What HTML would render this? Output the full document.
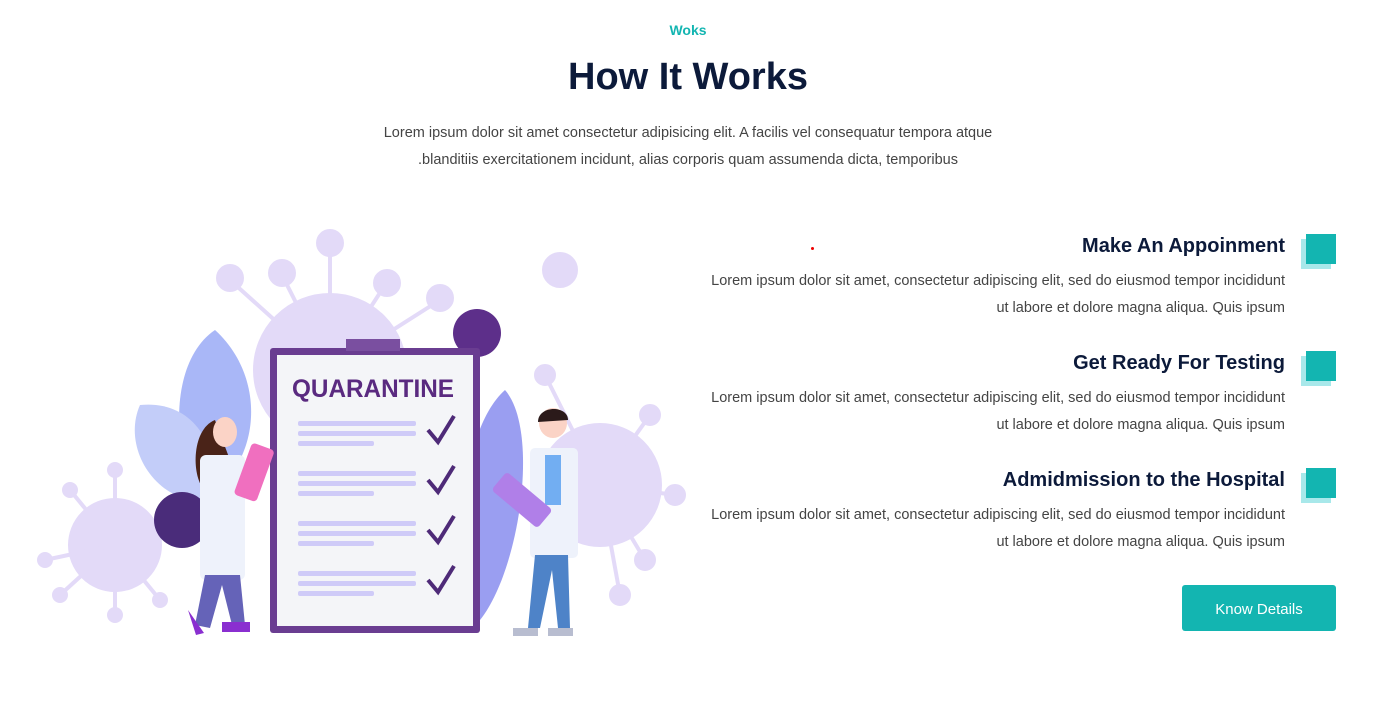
<!DOCTYPE html>
<html><head><meta charset="utf-8"><style>
body{margin:0;width:1399px;height:717px;background:#fff;position:relative;overflow:hidden;font-family:"Liberation Sans",sans-serif}
.a{position:absolute}
.sub{left:0;width:1376px;top:22px;text-align:center;color:#13b5b1;font-weight:bold;font-size:14px}
h1{position:absolute;margin:0;left:0;width:1376px;top:56px;text-align:center;font-size:38px;color:#0c1a3a;font-weight:bold}
.intro{left:0;width:1376px;top:120px;text-align:center;color:#444;font-size:14.5px;line-height:27px}
.item{right:114px;width:640px;text-align:right}
.item h3{margin:0;font-size:20px;color:#0c1a3a;font-weight:bold;line-height:26px}
.item p{margin:9px 0 0;font-size:14.5px;color:#444;line-height:27px}
.ic{left:1301px;width:30px;height:30px;background:#a8e8ea}
.ic2{left:1306px;width:30px;height:30px;background:#13b5b1}
.btn{left:1182px;top:585px;width:154px;height:46px;background:#13b5b1;color:#fff;font-size:15px;text-align:center;line-height:50px;border-radius:3px}
</style></head><body>
<div class="a sub">Woks</div>
<h1>How It Works</h1>
<div class="a intro">Lorem ipsum dolor sit amet consectetur adipisicing elit. A facilis vel consequatur tempora atque<br>.blanditiis exercitationem incidunt, alias corporis quam assumenda dicta, temporibus</div>
<div class="a" style="left:811px;top:247px;width:3px;height:3px;background:#e00;border-radius:50%"></div>

<div class="a item" style="top:233px"><h3>Make An Appoinment</h3><p>Lorem ipsum dolor sit amet, consectetur adipiscing elit, sed do eiusmod tempor incididunt<br>ut labore et dolore magna aliqua. Quis ipsum</p></div>
<div class="a item" style="top:350px"><h3>Get Ready For Testing</h3><p>Lorem ipsum dolor sit amet, consectetur adipiscing elit, sed do eiusmod tempor incididunt<br>ut labore et dolore magna aliqua. Quis ipsum</p></div>
<div class="a item" style="top:467px"><h3>Admidmission to the Hospital</h3><p>Lorem ipsum dolor sit amet, consectetur adipiscing elit, sed do eiusmod tempor incididunt<br>ut labore et dolore magna aliqua. Quis ipsum</p></div>
<div class="a ic" style="top:239px"></div><div class="a ic2" style="top:234px"></div>
<div class="a ic" style="top:356px"></div><div class="a ic2" style="top:351px"></div>
<div class="a ic" style="top:473px"></div><div class="a ic2" style="top:468px"></div>
<div class="a btn">Know Details</div>

<svg class="a" style="left:0;top:0" width="700" height="717">
<g stroke="#e3daf8" stroke-width="4" fill="#e3daf8">
<circle cx="330" cy="370" r="75"/>
<line x1="330" y1="370" x2="330" y2="245"/><circle cx="330" cy="243" r="12"/>
<line x1="330" y1="370" x2="230" y2="280"/><circle cx="230" cy="278" r="12"/>
<line x1="330" y1="370" x2="282" y2="275"/><circle cx="282" cy="273" r="12"/>
<line x1="330" y1="370" x2="385" y2="285"/><circle cx="387" cy="283" r="12"/>
<line x1="330" y1="370" x2="440" y2="300"/><circle cx="440" cy="298" r="12"/>
<circle cx="115" cy="545" r="45"/>
<line x1="115" y1="545" x2="45" y2="560"/><line x1="115" y1="545" x2="115" y2="470"/><line x1="115" y1="545" x2="70" y2="490"/><line x1="115" y1="545" x2="160" y2="600"/><line x1="115" y1="545" x2="115" y2="615"/><line x1="115" y1="545" x2="60" y2="595"/>
<circle cx="45" cy="560" r="6"/><circle cx="115" cy="470" r="6"/><circle cx="70" cy="490" r="6"/><circle cx="160" cy="600" r="6"/><circle cx="115" cy="615" r="6"/><circle cx="60" cy="595" r="6"/>
<circle cx="600" cy="485" r="60"/>
<line x1="600" y1="485" x2="675" y2="495"/><line x1="600" y1="485" x2="650" y2="415"/><line x1="600" y1="485" x2="545" y2="375"/><line x1="600" y1="485" x2="645" y2="560"/><line x1="600" y1="485" x2="620" y2="595"/>
<circle cx="675" cy="495" r="9"/><circle cx="650" cy="415" r="9"/><circle cx="545" cy="375" r="9"/><circle cx="645" cy="560" r="9"/><circle cx="620" cy="595" r="9"/>
<circle cx="560" cy="270" r="16"/>
</g>
<path d="M215 330 C170 360 170 450 200 500 C260 470 270 380 215 330Z" fill="#a9b7f7"/>
<path d="M140 405 C120 450 160 510 215 500 C220 440 190 400 140 405Z" fill="#c3cdf9"/>
<path d="M505 390 C460 430 450 560 480 620 C520 570 540 430 505 390Z" fill="#9a9ef1"/>
<circle cx="182" cy="520" r="28" fill="#4a2c7a"/>
<circle cx="477" cy="333" r="24" fill="#5d2f8a"/>
<rect x="270" y="348" width="210" height="285" rx="3" fill="#6a3d91"/>
<rect x="346" y="339" width="54" height="12" fill="#7a4fa0"/>
<rect x="277" y="355" width="196" height="271" fill="#f4f5f8"/>
<text x="373" y="397" text-anchor="middle" font-family="Liberation Sans,sans-serif" font-size="25" font-weight="bold" textLength="162" lengthAdjust="spacingAndGlyphs" fill="#5a2a80">QUARANTINE</text>
<g fill="#cfcbf8">
<rect x="298" y="421" width="118" height="5" rx="2"/><rect x="298" y="431" width="118" height="5" rx="2"/><rect x="298" y="441" width="76" height="5" rx="2"/>
<rect x="298" y="471" width="118" height="5" rx="2"/><rect x="298" y="481" width="118" height="5" rx="2"/><rect x="298" y="491" width="76" height="5" rx="2"/>
<rect x="298" y="521" width="118" height="5" rx="2"/><rect x="298" y="531" width="118" height="5" rx="2"/><rect x="298" y="541" width="76" height="5" rx="2"/>
<rect x="298" y="571" width="118" height="5" rx="2"/><rect x="298" y="581" width="118" height="5" rx="2"/><rect x="298" y="591" width="76" height="5" rx="2"/>
</g>
<g fill="none" stroke="#4e2a78" stroke-width="4"><path d="M428 430 l10 12 l16 -26"/><path d="M428 480 l10 12 l16 -26"/><path d="M428 530 l10 12 l16 -26"/><path d="M428 580 l10 12 l16 -26"/></g>
<path d="M215 420 C190 430 192 480 205 490 L230 460Z" fill="#4a2318"/>
<ellipse cx="225" cy="432" rx="12" ry="15" fill="#fbd3c6"/>
<rect x="200" y="455" width="45" height="125" rx="6" fill="#eef2fb"/>
<rect x="243" y="445" width="24" height="55" rx="4" fill="#f06fbf" transform="rotate(20 255 470)"/>
<path d="M205 575 L195 625 L210 628 L222 585 L232 625 L245 625 L240 575Z" fill="#6563b8"/>
<path d="M188 610 l8 25 l8 -2Z M222 622 h28 v10 h-28Z" fill="#8a2fd0"/>
<ellipse cx="553" cy="423" rx="14" ry="15" fill="#fbd3c6"/><path d="M538 422 C538 405 568 405 568 420Z" fill="#2b1a1a"/>
<rect x="530" y="448" width="48" height="110" rx="5" fill="#eef2fb"/><rect x="545" y="455" width="16" height="50" fill="#72aef2"/>
<rect x="510" y="470" width="24" height="60" rx="4" fill="#b07fe8" transform="rotate(-50 522 500)"/>
<path d="M535 555 L528 628 L540 628 L552 570 L558 628 L570 628 L568 555Z" fill="#4e83c8"/>
<path d="M513 628 h25 v8 h-25Z M548 628 h25 v8 h-25Z" fill="#b8bdd0"/>
</svg>
</body></html>
